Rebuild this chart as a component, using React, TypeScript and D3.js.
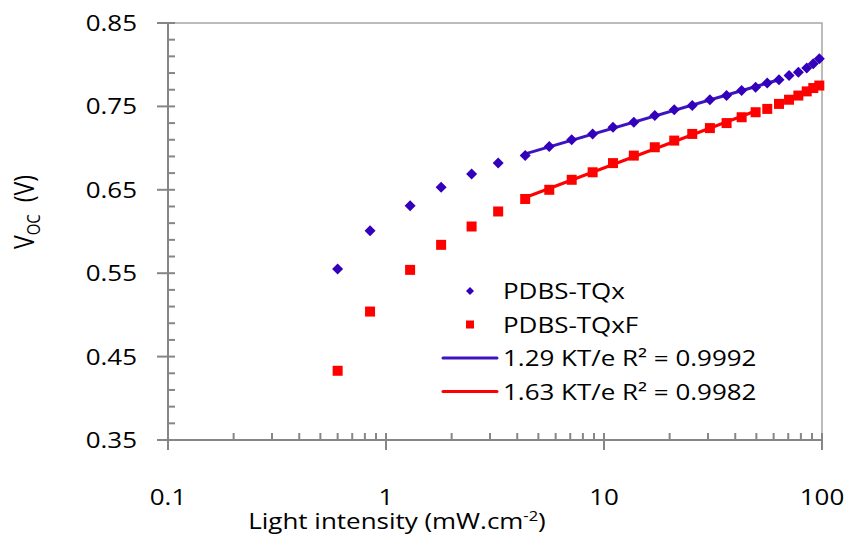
import React from "react";
import * as d3 from "d3";

// light intensity (mW/cm2), shared by both devices
const intensity = [
  0.6, 0.845, 1.29, 1.79, 2.47, 3.27, 4.35, 5.61, 7.11, 8.87, 11.0, 13.7, 17.1,
  21.0, 25.4, 30.6, 36.5, 42.8, 49.6, 56.1, 63.5, 70.6, 77.9, 85.1, 91.2, 97.2,
];
const vocTQx = [
  0.555, 0.601, 0.631, 0.653, 0.669, 0.682, 0.691, 0.702, 0.71, 0.717, 0.725,
  0.731, 0.739, 0.746, 0.751, 0.758, 0.763, 0.769, 0.773, 0.778, 0.782, 0.787,
  0.791, 0.796, 0.801, 0.807,
];
const vocTQxF = [
  0.433, 0.504, 0.554, 0.584, 0.606, 0.624, 0.639, 0.65, 0.662, 0.671, 0.682,
  0.691, 0.701, 0.709, 0.717, 0.724, 0.73, 0.737, 0.743, 0.747, 0.753, 0.758,
  0.763, 0.768, 0.772, 0.775,
];
// index ranges used for the trendlines
const fitTQx = [6, 20];
const fitTQxF = [6, 18];

const yTicks = [0.35, 0.45, 0.55, 0.65, 0.75, 0.85];
const xTicks = [0.1, 1, 10, 100];
const legendLabels = [
  "PDBS-TQx",
  "PDBS-TQxF",
  "1.29 KT/e R² = 0.9992",
  "1.63 KT/e R² = 0.9982",
];

const BLUE = "#3300bb";
const BLUE_LINE = "#3c14c0";
const RED = "#ff0000";
const AXIS = "#868686";
const FONT = "'Open Sans', sans-serif";
const SX = 1.18; // horizontal stretch of the text in the original

const margin = { left: 168, right: 28, top: 23, bottom: 97 };
const W = 850;
const H = 537;

function fitLine(vals: number[], range: number[]) {
  const xs = intensity.slice(range[0], range[1] + 1);
  const ys = vals.slice(range[0], range[1] + 1);
  const lx = xs.map((d) => Math.log10(d));
  const mx = d3.mean(lx)!;
  const my = d3.mean(ys)!;
  const slope =
    d3.sum(lx, (d, i) => (d - mx) * (ys[i] - my)) /
    d3.sum(lx, (d) => (d - mx) ** 2);
  const b = my - slope * mx;
  const ends = [xs[0], xs[xs.length - 1]];
  return ends.map((x) => [x, b + slope * Math.log10(x)] as [number, number]);
}

const T = ({ x, y, anchor = "start", size = 22, children }: any) => (
  <text
    transform={`translate(${x},${y}) scale(${SX},1)`}
    textAnchor={anchor}
    fontFamily={FONT}
    fontSize={size}
    fill="#000"
  >
    {children}
  </text>
);

export default function App() {
  const x = d3
    .scaleLog()
    .domain([0.1, 100])
    .range([margin.left, W - margin.right]);
  const y = d3
    .scaleLinear()
    .domain([0.35, 0.85])
    .range([H - margin.bottom, margin.top]);

  const x0 = x.range()[0];
  const x1 = x.range()[1];
  const y0 = y.range()[0];
  const y1 = y.range()[1];

  const minorX = x.ticks().filter((t) => !xTicks.some((m) => Math.abs(m - t) < 1e-9));
  const minorY = d3.range(0.37, 0.85, 0.02).filter(
    (t) => !yTicks.some((m) => Math.abs(m - t) < 1e-6)
  );

  const line = d3
    .line<[number, number]>()
    .x((d) => x(d[0]))
    .y((d) => y(d[1]));

  const diamond = (cx: number, cy: number, r: number) =>
    `M${cx},${cy - r}L${cx + r},${cy}L${cx},${cy + r}L${cx - r},${cy}Z`;

  const legX = 470;
  const legRows = [291, 324.5, 358, 391.5];

  return (
    <svg width={W} height={H} style={{ position: "absolute", left: 0, top: 0 }}>
      <rect width={W} height={H} fill="#fff" />

      {/* plot border top/right */}
      <path
        d={`M${x0},${y1}H${x1}V${y0}`}
        fill="none"
        stroke="#a6a6a6"
        strokeWidth={1.5}
      />

      {/* fitted lines */}
      <path d={line(fitLine(vocTQx, fitTQx))!} fill="none" stroke={BLUE_LINE} strokeWidth={3} />
      <path d={line(fitLine(vocTQxF, fitTQxF))!} fill="none" stroke={RED} strokeWidth={3} />

      {/* points */}
      {intensity.map((d, i) => (
        <rect
          key={"r" + i}
          x={x(d) - 5}
          y={y(vocTQxF[i]) - 5}
          width={10}
          height={10}
          fill={RED}
        />
      ))}
      {intensity.map((d, i) => (
        <path key={"b" + i} d={diamond(x(d), y(vocTQx[i]), 5.5)} fill={BLUE} />
      ))}

      {/* axes */}
      <g stroke={AXIS} strokeWidth={2} fill="none">
        <line x1={x0} x2={x0} y1={y1} y2={y0} />
        <line x1={x0} x2={x1} y1={y0} y2={y0} />
        {yTicks.map((t) => (
          <line key={"ym" + t} x1={x0 - 11} x2={x0 + 7} y1={y(t)} y2={y(t)} />
        ))}
        {minorY.map((t) => (
          <line key={"yn" + t} x1={x0} x2={x0 + 7} y1={y(t)} y2={y(t)} />
        ))}
        {xTicks.map((t) => (
          <line key={"xm" + t} x1={x(t)} x2={x(t)} y1={y0 - 7} y2={y0 + 10} />
        ))}
        {minorX.map((t) => (
          <line key={"xn" + t} x1={x(t)} x2={x(t)} y1={y0 - 7} y2={y0} />
        ))}
      </g>

      {yTicks.map((t) => (
        <T key={"yl" + t} x={137} y={y(t) + 8} anchor="end">
          {t.toFixed(2)}
        </T>
      ))}
      {xTicks.map((t) => (
        <T key={"xl" + t} x={x(t)} y={505} anchor="middle">
          {String(t)}
        </T>
      ))}

      {/* axis titles */}
      <T x={397} y={529} anchor="middle">
        Light intensity (mW.cm
        <tspan dy={-8} fontSize={14}>-2</tspan>
        <tspan dy={8}>)</tspan>
      </T>
      <text
        transform={`translate(34,212) rotate(-90) scale(1,${SX})`}
        textAnchor="middle"
        fontFamily={FONT}
        fontSize={23}
      >
        V<tspan dy={5} fontSize={15}>OC</tspan>
        <tspan dy={-5}>{"\u00a0 (V)"}</tspan>
      </text>

      {/* legend */}
      <path d={diamond(legX, legRows[0], 4)} fill={BLUE} />
      <rect x={legX - 4} y={legRows[1] - 4} width={8} height={8} fill={RED} />
      <line x1={443} x2={497} y1={legRows[2]} y2={legRows[2]} stroke={BLUE_LINE} strokeWidth={3} strokeLinecap="round" />
      <line x1={443} x2={497} y1={legRows[3]} y2={legRows[3]} stroke={RED} strokeWidth={3} strokeLinecap="round" />
      {legendLabels.map((l, i) => (
        <T key={l} x={503} y={legRows[i] + 8}>
          {l}
        </T>
      ))}
    </svg>
  );
}
